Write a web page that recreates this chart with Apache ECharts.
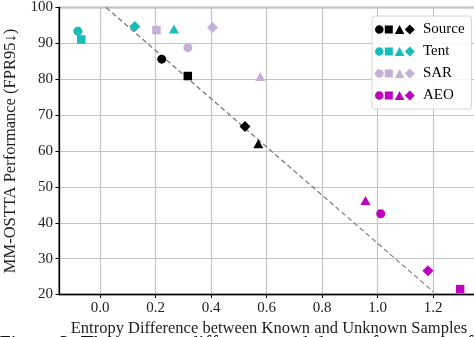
<!DOCTYPE html>
<html>
<head>
<meta charset="utf-8">
<script src="https://cdn.jsdelivr.net/npm/echarts@6/dist/echarts.min.js"></script>
<style>
  html, body { margin: 0; padding: 0; background: #fff; }
  #chart { width: 474px; height: 337px; }
</style>
</head>
<body>
<div id="chart"></div>
<script>
// marker order per method: circle, square, triangle, diamond
const shapes = ['circle', 'rect', 'triangle', 'diamond']
const shapeSizes = [9, 8.5, [10, 9], [11, 11]]

const methods = ['Source', 'Tent', 'SAR', 'AEO']
const colors = ['#000000', '#17bdbb', '#c5b0d5', '#bf00bf']

const sourceX = [0.222, 0.316, 0.570, 0.522]
const sourceY = [85.6, 80.9, 62.0, 66.8]
const tentX = [-0.080, -0.068, 0.266, 0.125]
const tentY = [93.4, 91.1, 94.0, 94.7]
const sarX = [0.316, 0.203, 0.577, 0.405]
const sarY = [88.8, 93.7, 80.8, 94.4]
const aeoX = [1.011, 1.297, 0.956, 1.181]
const aeoY = [42.5, 21.5, 46.2, 26.6]

// dashed trend line
const fitX = [0, 1.2]
const fitY = [101.45, 20.8]

const xTicks = [0.0, 0.2, 0.4, 0.6, 0.8, 1.0, 1.2]

const seriesX = [sourceX, tentX, sarX, aeoX]
const seriesY = [sourceY, tentY, sarY, aeoY]

const font = 'Liberation Serif, DejaVu Serif, serif'

// legend icon: circle, square, triangle, diamond in one path
const legendIcon = 'path://M0.2,5A4.3,4.3,0,1,0,8.8,5A4.3,4.3,0,1,0,0.2,5Z' +
  'M10,1L18,1L18,9L10,9Z' +
  'M20,9.5L24.75,0.5L29.5,9.5Z' +
  'M30,5L35,0L40,5L35,10Z'

const chart = echarts.init(document.getElementById('chart'))

const scatterSeries = methods.map((name, i) => ({
  name: name,
  type: 'scatter',
  z: 3,
  itemStyle: { color: colors[i], opacity: 1 },
  data: seriesX[i].map((x, j) => ({
    value: [x, seriesY[i][j]],
    symbol: shapes[j],
    symbolSize: shapeSizes[j]
  }))
}))

const option = {
  animation: false,
  backgroundColor: '#fff',
  grid: {
    left: 59,
    top: 7.5,
    right: -5,
    bottom: 42.5,
    outerBoundsMode: 'none',
    show: true,
    borderColor: '#666',
    borderWidth: 1.5
  },
  legend: {
    orient: 'vertical',
    left: 372,
    top: 16,
    itemWidth: 40,
    itemHeight: 10,
    itemGap: 7,
    padding: [6, 7, 6, 3],
    backgroundColor: 'rgba(255,255,255,0.85)',
    borderColor: '#d6d6d6',
    borderWidth: 1,
    borderRadius: 3,
    textStyle: { fontFamily: font, fontSize: 15, color: '#000', padding: [0, 0, 0, 3] },
    data: methods.map(m => ({ name: m, icon: legendIcon }))
  },
  xAxis: {
    type: 'value',
    min: -0.148,
    max: 1.365,
    interval: 0.2,
    name: 'Entropy Difference between Known and Unknown Samples',
    nameLocation: 'middle',
    nameGap: 22,
    nameTextStyle: { fontFamily: font, fontSize: 16.5, color: '#222' },
    axisLine: { show: true, onZero: false, lineStyle: { color: '#000', width: 1.3 } },
    axisTick: { show: true, length: 3.5, lineStyle: { color: '#000' }, customValues: xTicks },
    axisLabel: {
      fontFamily: font, fontSize: 15, color: '#222', margin: 6,
      customValues: xTicks,
      formatter: v => v.toFixed(1)
    },
    splitLine: { show: true, lineStyle: { color: '#c4c4c4', width: 1.2 } }
  },
  yAxis: {
    type: 'value',
    min: 20,
    max: 100,
    interval: 10,
    name: 'MM-OSTTA Performance (FPR95↓)',
    nameLocation: 'middle',
    nameGap: 34,
    nameTextStyle: { fontFamily: font, fontSize: 16.5, color: '#222' },
    axisLine: { show: true, onZero: false, lineStyle: { color: '#000', width: 1.3 } },
    axisTick: { show: true, length: 3.5, lineStyle: { color: '#000' } },
    axisLabel: { fontFamily: font, fontSize: 15, color: '#222', margin: 6 },
    splitLine: { show: true, lineStyle: { color: '#c4c4c4', width: 1.2 } }
  },
  graphic: [{
    type: 'text',
    left: -1,
    top: 334,
    silent: true,
    style: {
      text: 'Figure 3: The entropy difference and the performance of',
      font: '21px ' + font,
      fill: '#111'
    }
  }],
  series: [
    {
      type: 'line',
      z: 2,
      silent: true,
      symbol: 'none',
      clip: true,
      lineStyle: { color: '#777', width: 1.2, type: [5, 3] },
      data: fitX.map((x, i) => [x, fitY[i]])
    }
  ].concat(scatterSeries)
}

chart.setOption(option)
</script>
</body>
</html>
